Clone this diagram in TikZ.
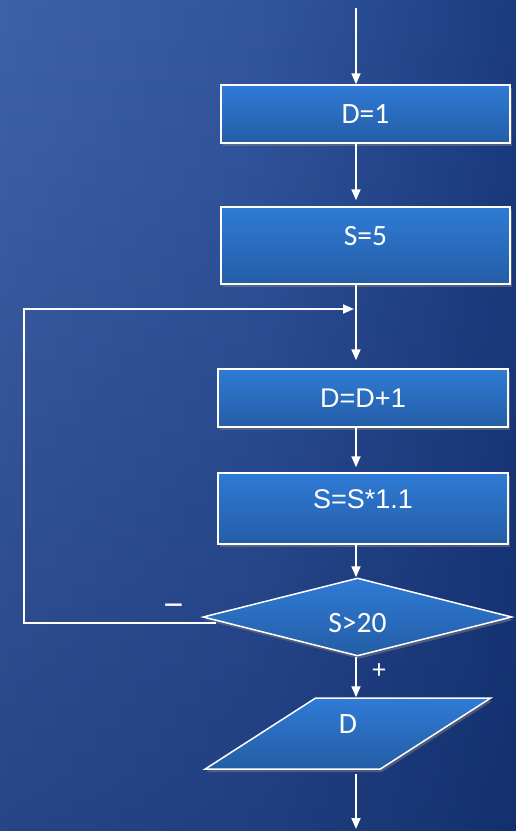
\documentclass[tikz,border=0pt]{standalone}
\usepackage{fontspec}
\setmainfont{Carlito}
\newfontfamily\arialfont{Liberation Sans}
\usetikzlibrary{shapes.geometric,arrows.meta,shadows,calc,fadings}

\definecolor{bgleft}{RGB}{62,98,170}
\definecolor{bgmid}{RGB}{50,86,158}
\definecolor{bgright}{RGB}{28,60,128}
\definecolor{bgnavy}{RGB}{8,30,85}
\definecolor{boxtop}{HTML}{2F7BD6}
\definecolor{boxbottom}{HTML}{245DA5}

\pgfdeclarehorizontalshading{bgsweep}{100bp}{color(0bp)=(bgleft);
  color(25bp)=(bgleft); color(50bp)=(bgmid); color(75bp)=(bgright);
  color(100bp)=(bgright)}
\tikzfading[name=downdark,top color=transparent!100,bottom color=transparent!58]

\tikzset{
  shape base/.style={draw=white,line width=1.5pt,top color=boxtop,
    bottom color=boxbottom,text=white,inner sep=0pt,
    drop shadow={shadow xshift=1.5pt,shadow yshift=-3pt,opacity=.5}},
  block/.style={shape base,rectangle,minimum width=289pt,
    font=\fontsize{29.5}{30}\selectfont},
  arialblock/.style={block,font=\arialfont\fontsize{27}{28}\selectfont},
  test/.style={shape base,diamond,minimum width=309pt,minimum height=78pt,
    aspect=3.96,font=\fontsize{29.5}{30}\selectfont},
  io/.style={shape base,trapezium,trapezium left angle=50.8,
    trapezium right angle=129.2,trapezium stretches=true,
    minimum width=288pt,minimum height=71pt,
    font=\fontsize{29.5}{30}\selectfont},
  flow/.style={draw=white,line width=1.8pt,
    -{Triangle[length=11pt,width=9pt]}},
  sign/.style={text=white,inner sep=0pt}
}

\begin{document}
\begin{tikzpicture}[x=1pt,y=-1pt]

\useasboundingbox (0,0) rectangle (516,831);

\begin{scope} % background
  \shade[shading=bgsweep] (0,0) rectangle (516,831);
  \fill[bgnavy,path fading=downdark] (0,0) rectangle (516,831);
\end{scope}

\begin{scope} % chart nodes
  \node[block,minimum height=58pt] (dinit) at (365.5,114) {D=1};
  \node[block,minimum height=77pt,text depth=20pt] (sinit) at (365.5,245.5) {S=5};
  \node[arialblock,minimum width=290pt,minimum height=58pt] (dstep) at (363,398) {D=D+1};
  \node[arialblock,minimum width=290pt,minimum height=71pt,text depth=18pt]
    (sstep) at (363,508.5) {S=S*1.1};
  \node[test,text height=30pt,text depth=0pt] (cond) at (357.5,617) {S>20};
  \node[io,text depth=19pt] (out) at (348,733.5) {D};
\end{scope}

\coordinate (start) at (356,8);
\coordinate (stop) at (356,829);
\coordinate (join) at (356,309);
\coordinate (back) at (24,309);

\begin{scope} % connectors
  \draw[flow] (start) -- (start |- dinit.north);
  \draw[flow,shorten >=6pt] (start |- dinit.south) -- (start |- sinit.north);
  \draw[flow,shorten >=8pt] (start |- sinit.south) -- (start |- dstep.north);
  \draw[flow,shorten >=5pt] (start |- dstep.south) -- (start |- sstep.north);
  \draw[flow] (start |- sstep.south) -- (start |- cond.north);
  \draw[flow] (start |- cond.south) -- (start |- out.north)
    node[sign,pos=0.35,xshift=23pt,font=\fontsize{27}{27}\selectfont] {+};
  \draw[flow] ($(start |- out.south)+(0,4)$) -- (stop);
  \draw[flow,shorten >=2pt] ($(cond.west)+(14,6)$) -| (back) -- (join);
\end{scope}

\node[sign,anchor=base,font=\arialfont\fontsize{34}{34}\selectfont]
  (minus) at (173.5,616) {−};

\end{tikzpicture}
\end{document}
